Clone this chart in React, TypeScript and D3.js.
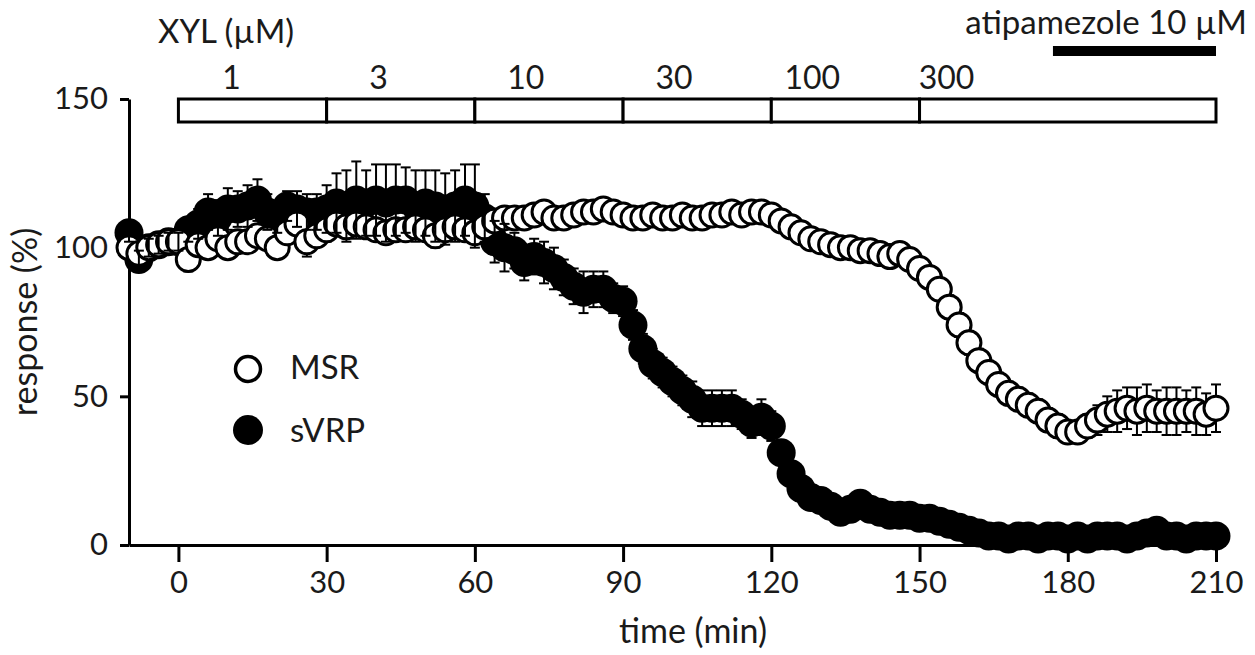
import React, { useRef, useEffect } from 'react'
import * as d3 from 'd3'

// sampling grid, every 2 min
const times = d3.range(-10, 211, 2)

// MSR (open circles), mean and SEM in % of baseline
const msrMean = [
  100, 98, 100, 101, 102, 102, 96, 101, 100, 103,
  100, 102, 102, 104, 103, 100, 105, 108, 102, 104,
  106, 108, 107, 108, 107, 106, 105, 106, 106, 107,
  106, 104, 106, 107, 106, 105, 107, 109, 110, 110,
  110, 111, 112, 110, 110, 111, 112, 112, 113, 112,
  111, 110, 110, 111, 110, 110, 111, 110, 110, 111,
  111, 112, 111, 112, 112, 111, 109, 107, 105, 103,
  102, 101, 100, 100, 99, 99, 98, 97, 98, 96,
  93, 90, 86, 80, 74, 68, 62, 58, 54, 51,
  49, 47, 45, 42, 40, 38, 38, 40, 42, 44,
  45, 46, 45, 46, 45, 45, 45, 45, 45, 44,
  46,
]
const msrSem = [
  2, 2, 2, 2, 2, 2, 4, 3, 2, 3,
  3, 3, 2, 3, 3, 3, 3, 3, 5, 3,
  4, 3, 3, 3, 3, 3, 3, 3, 3, 3,
  3, 4, 3, 3, 3, 3, 3, 3, 3, 3,
  2, 2, 2, 2, 2, 2, 2, 2, 2, 2,
  2, 2, 2, 2, 2, 2, 2, 2, 2, 2,
  2, 2, 2, 2, 2, 2, 2, 2, 2, 2,
  2, 2, 2, 2, 2, 2, 2, 2, 2, 3,
  3, 3, 3, 4, 4, 4, 4, 4, 4, 4,
  4, 4, 4, 4, 4, 3, 3, 4, 5, 6,
  7, 7, 8, 8, 7, 8, 8, 7, 8, 7,
  8,
]

// sVRP (filled circles)
const svrpMean = [
  105, 96, 100, 101, 102, 102, 106, 108, 112, 110,
  113, 113, 114, 116, 112, 110, 114, 113, 112, 112,
  113, 115, 114, 116, 115, 116, 115, 116, 116, 114,
  115, 114, 113, 114, 116, 114, 110, 102, 100, 99,
  95, 97, 95, 93, 90, 87, 85, 86, 86, 83,
  82, 74, 66, 61, 58, 55, 52, 49, 46, 46,
  46, 46, 44, 41, 43, 40, 31, 24, 19, 16,
  15, 13, 11, 12, 14, 12, 11, 10, 10, 10,
  9, 9, 8, 7, 6, 5, 4, 3, 3, 2,
  3, 3, 2, 3, 3, 2, 3, 2, 3, 3,
  3, 2, 3, 4, 5, 3, 3, 2, 3, 3,
  3,
]
const svrpSem = [
  3, 3, 3, 3, 3, 3, 4, 5, 6, 6,
  7, 6, 7, 7, 6, 5, 5, 6, 6, 6,
  8, 10, 12, 13, 11, 12, 13, 12, 11, 12,
  11, 12, 12, 12, 12, 14, 8, 7, 8, 6,
  6, 6, 7, 7, 6, 6, 7, 6, 6, 5,
  5, 5, 5, 5, 5, 5, 5, 6, 6, 6,
  6, 6, 5, 5, 6, 5, 4, 4, 3, 3,
  3, 3, 3, 3, 2, 2, 2, 2, 2, 2,
  2, 2, 2, 2, 2, 2, 2, 1, 1, 1,
  1, 1, 1, 1, 1, 1, 1, 1, 1, 1,
  1, 1, 1, 1, 1, 1, 1, 1, 1, 1,
  1,
]

const xTicks = [0, 30, 60, 90, 120, 150, 180, 210]
const yTicks = [0, 50, 100, 150]

// xylazine concentration steps (µM)
const doseLabels = ['1', '3', '10', '30', '100', '300']
const doseStart = [0, 30, 60, 90, 120, 150]
const doseEnd = [30, 60, 90, 120, 150, 210]

const atipStart = 177
const atipEnd = 210

export default function App() {
  const svgRef = useRef(null)

  useEffect(() => {
    const svg = d3.select(svgRef.current)
    svg.selectAll('*').remove()
    const font = 'Lato, sans-serif'
    const ink = '#1a1a1a'

    const x = d3.scaleLinear().domain([-10, 210]).range([129, 1216])
    const y = d3.scaleLinear().domain([0, 150]).range([545, 99])

    // axes
    const xAxis = d3.axisBottom(x).tickValues(xTicks).tickSize(17).tickSizeOuter(0).tickPadding(9)
    const gx = svg.append('g').attr('transform', 'translate(0,545)').call(xAxis)
    const yAxis = d3.axisLeft(y).tickValues(yTicks).tickSize(9).tickSizeOuter(0).tickPadding(12)
    const gy = svg.append('g').attr('transform', 'translate(129,0)').call(yAxis)
    for (const g of [gx, gy]) {
      g.select('.domain').attr('stroke', '#000').attr('stroke-width', 3)
      g.selectAll('.tick line').attr('stroke', '#000').attr('stroke-width', 3)
      g.selectAll('.tick text')
        .attr('fill', ink)
        .style('font-family', font)
        .style('font-size', '31px')
    }

    svg.append('text')
      .attr('x', 693).attr('y', 643)
      .attr('text-anchor', 'middle')
      .style('font-family', font).style('font-size', '34px').attr('fill', ink)
      .text('time (min)')
    svg.append('text')
      .attr('transform', 'translate(37,322) rotate(-90)')
      .attr('text-anchor', 'middle')
      .style('font-family', font).style('font-size', '34px').attr('fill', ink)
      .text('response (%)')

    // XYL concentration bar
    const barTop = y(150)
    const barH = 23
    svg.append('g').selectAll('rect')
      .data(doseStart)
      .join('rect')
      .attr('x', (d) => x(d))
      .attr('y', barTop)
      .attr('width', (d, i) => x(doseEnd[i]) - x(d))
      .attr('height', barH)
      .attr('fill', '#fff')
      .attr('stroke', '#000')
      .attr('stroke-width', 3)
    const labelShift = [53, 52, 51, 51, 41, 27]
    svg.append('g').selectAll('text')
      .data(doseLabels)
      .join('text')
      .attr('x', (d, i) => x(doseStart[i]) + labelShift[i])
      .attr('y', 89)
      .attr('text-anchor', 'middle')
      .style('font-family', font).style('font-size', '32px').attr('fill', ink)
      .text((d) => d)
    svg.append('text')
      .attr('x', 158).attr('y', 43)
      .style('font-family', font).style('font-size', '33px').attr('fill', ink)
      .text('XYL (\u00b5M)')

    // atipamezole bar
    svg.append('rect')
      .attr('x', x(atipStart)).attr('y', 46)
      .attr('width', x(atipEnd) - x(atipStart)).attr('height', 10)
      .attr('fill', '#000')
    svg.append('text')
      .attr('x', 1247).attr('y', 34)
      .attr('text-anchor', 'end')
      .style('font-family', font).style('font-size', '33px').attr('fill', ink)
      .text('atipamezole 10 \u00b5M')

    const drawErr = (mean, sem) => {
      const g = svg.append('g').attr('stroke', '#000').attr('stroke-width', 2)
      times.forEach((t, i) => {
        const cx = x(t)
        const hi = y(mean[i] + sem[i])
        const lo = y(mean[i] - sem[i])
        g.append('line').attr('x1', cx).attr('x2', cx).attr('y1', hi).attr('y2', lo)
        g.append('line').attr('x1', cx - 5).attr('x2', cx + 5).attr('y1', hi).attr('y2', hi)
        g.append('line').attr('x1', cx - 5).attr('x2', cx + 5).attr('y1', lo).attr('y2', lo)
      })
    }

    // sVRP points
    svg.append('g').selectAll('circle')
      .data(svrpMean)
      .join('circle')
      .attr('cx', (d, i) => x(times[i]))
      .attr('cy', (d) => y(d))
      .attr('r', 14.5)
      .attr('fill', '#000')

    drawErr(msrMean, msrSem)

    // MSR points
    svg.append('g').selectAll('circle')
      .data(msrMean)
      .join('circle')
      .attr('cx', (d, i) => x(times[i]))
      .attr('cy', (d) => y(d))
      .attr('r', 12)
      .attr('fill', '#fff')
      .attr('stroke', '#000')
      .attr('stroke-width', 3)

    drawErr(svrpMean, svrpSem)

    // legend
    svg.append('circle').attr('cx', 248).attr('cy', 369).attr('r', 12.5)
      .attr('fill', '#fff').attr('stroke', '#000').attr('stroke-width', 3.5)
    svg.append('circle').attr('cx', 248).attr('cy', 430).attr('r', 15).attr('fill', '#000')
    svg.append('text').attr('x', 290).attr('y', 379)
      .style('font-family', font).style('font-size', '33px').attr('fill', ink)
      .text('MSR')
    svg.append('text').attr('x', 290).attr('y', 442)
      .style('font-family', font).style('font-size', '33px').attr('fill', ink)
      .text('sVRP')
  }, [])

  return (
    <svg
      ref={svgRef}
      width={1255}
      height={655}
      style={{ position: 'absolute', left: 0, top: 0, background: '#fff' }}
    />
  )
}
